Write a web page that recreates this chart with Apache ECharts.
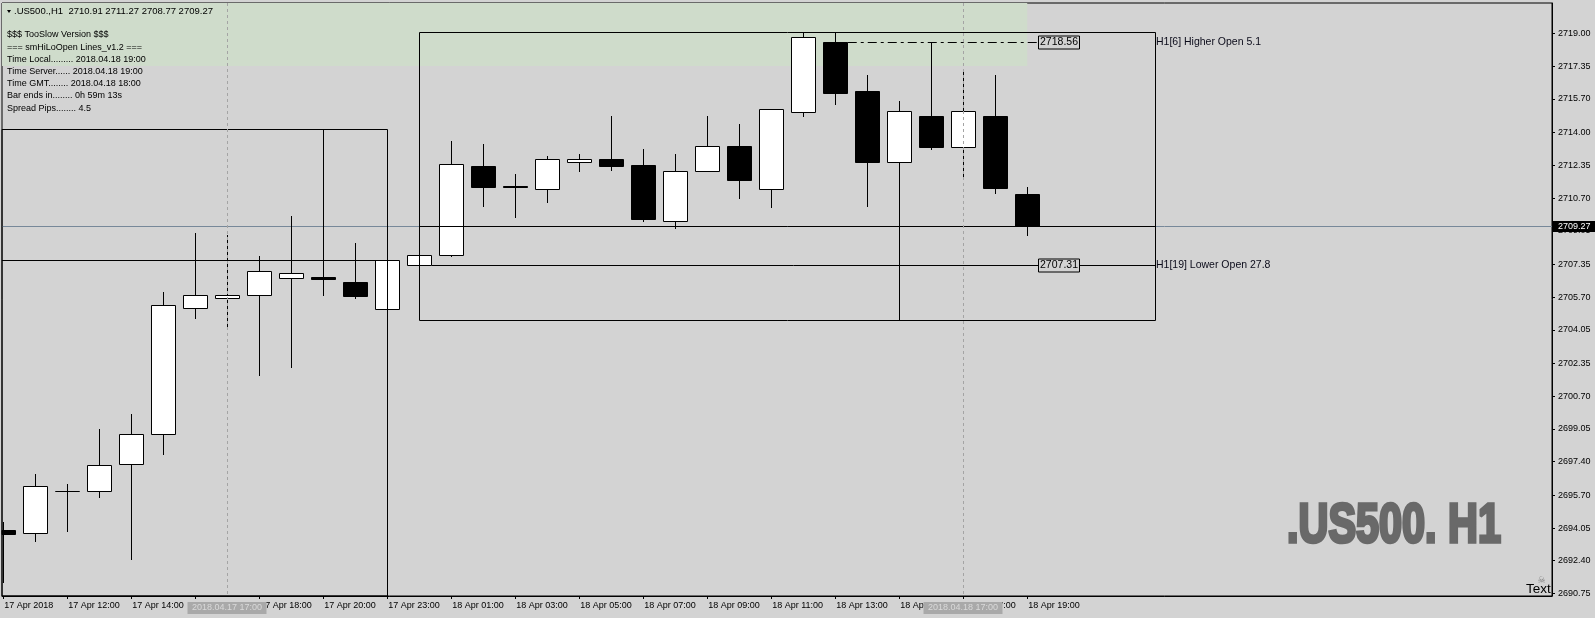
<!DOCTYPE html>
<html><head><meta charset="utf-8">
<script src="https://cdn.jsdelivr.net/npm/echarts@6/dist/echarts.min.js"></script>
<style>html,body{margin:0;padding:0;background:#d3d3d3;}#c{width:1595px;height:618px;}</style>
</head><body><div id="c"></div>
<script>
// ---------------- data ----------------
const barTimes = ['17 Apr 10:00','17 Apr 11:00','17 Apr 12:00','17 Apr 13:00','17 Apr 14:00','17 Apr 15:00','17 Apr 16:00','17 Apr 17:00','17 Apr 18:00','17 Apr 19:00','17 Apr 20:00','17 Apr 21:00','17 Apr 23:00',
  '18 Apr 00:00','18 Apr 01:00','18 Apr 02:00','18 Apr 03:00','18 Apr 04:00','18 Apr 05:00','18 Apr 06:00','18 Apr 07:00','18 Apr 08:00','18 Apr 09:00','18 Apr 10:00','18 Apr 11:00','18 Apr 12:00','18 Apr 13:00','18 Apr 14:00','18 Apr 15:00','18 Apr 16:00','18 Apr 17:00','18 Apr 18:00','18 Apr 19:00'];
const opens  = [2693.95,2693.78,2695.90,2695.90,2697.26,2698.78,2705.13,2705.64,2705.79,2706.65,2706.73,2706.44,2705.08,2707.31,2707.81,2712.31,2711.30,2711.14,2712.53,2712.67,2712.36,2709.52,2712.05,2713.31,2711.14,2715.02,2718.56,2716.10,2712.53,2714.84,2713.29,2714.84,2710.91];
const closes = [2693.76,2696.15,2695.90,2697.21,2698.78,2705.28,2705.79,2705.79,2707.00,2706.90,2706.63,2705.77,2707.55,2707.81,2712.40,2711.27,2711.24,2712.65,2712.65,2712.33,2709.65,2712.05,2713.32,2711.62,2715.17,2718.81,2716.01,2712.53,2715.09,2713.29,2715.09,2711.22,2709.27];
const highs  = [2694.37,2696.77,2696.27,2699.04,2699.80,2705.96,2708.92,2708.83,2707.77,2709.79,2714.16,2708.43,2707.65,2707.90,2713.57,2713.42,2711.91,2712.82,2712.92,2714.84,2713.17,2712.92,2714.84,2714.43,2715.17,2719.06,2719.06,2716.90,2715.59,2718.56,2717.16,2716.90,2711.27];
const lows   = [2691.29,2693.36,2693.86,2695.58,2692.43,2697.73,2704.59,2704.04,2701.73,2702.14,2705.77,2705.60,2704.95,2707.25,2707.74,2710.26,2709.70,2710.46,2712.01,2712.08,2709.49,2709.15,2712.00,2710.65,2710.21,2714.80,2715.39,2710.26,2704.54,2713.12,2711.69,2710.88,2708.77];

const xTickBars   = [0,2,4,6,8,10,12,14,16,18,20,22,24,26,28,30,32];
const xTickLabels = ['17 Apr 2018','17 Apr 12:00','17 Apr 14:00','17 Apr 16:00','17 Apr 18:00','17 Apr 20:00','17 Apr 23:00','18 Apr 01:00','18 Apr 03:00','18 Apr 05:00','18 Apr 07:00','18 Apr 09:00','18 Apr 11:00','18 Apr 13:00','18 Apr 15:00','18 Apr 17:00','18 Apr 19:00'];
const yTickLabels = ['2690.75','2692.40','2694.05','2695.70','2697.40','2699.05','2700.70','2702.35','2704.05','2705.70','2707.35','2709.05','2710.70','2712.35','2714.00','2715.70','2717.35','2719.00'];

const bidPrice = 2709.27;
const dayBoxFrom  = [-1, 13];
const dayBoxTo    = [12, 36];
const dayBoxHigh  = [2714.16, 2719.06];
const dayBoxLow   = [2680.00, 2704.54];
const dayBoxClose = [2707.55, 2709.27];
const openLevelNames  = ['H1[6] Higher Open 5.1', 'H1[19] Lower Open 27.8'];
const openLevelPrices = [2718.56, 2707.31];
const openLevelBars   = [26, 13];
const openLevelTagBar = 33;
const zoneFrom = -1, zoneTo = 32, zoneLow = 2717.36, zoneHigh = 2722.0;
const crosshairBars   = [7, 30];
const crosshairLabels = ['2018.04.17 17:00', '2018.04.18 17:00'];
const headerText = '.US500.,H1  2710.91 2711.27 2708.77 2709.27';
const infoLines = ['$$$ TooSlow Version $$$','=== smHiLoOpen Lines_v1.2 ===','Time Local......... 2018.04.18 19:00','Time Server...... 2018.04.18 19:00','Time GMT........ 2018.04.18 18:00','Bar ends in........ 0h 59m 13s','Spread Pips........ 4.5'];
const watermark = '.US500. H1';

// ---------------- chart ----------------
const FONT = '"Liberation Sans", Arial, sans-serif';
const XMIN = -0.04, XMAX = 48.40, YMIN = 2690.62, YMAX = 2720.54;
const chart = echarts.init(document.getElementById('c'), null, {renderer:'canvas', width:1595, height:618});

function clampX(x, cs){ return Math.max(cs.x, Math.min(cs.x + cs.width, x)); }
function txt(text, x, y, font, fill, align, valign){
  return {type:'text', style:{text, x, y, font, fill, align, verticalAlign:valign, textAlign:align, textVerticalAlign:valign}};
}

// watermark scaling
const wmFont = 'bold 55px "Liberation Sans Narrow", "Liberation Sans", Arial';
const ctx = document.createElement('canvas').getContext('2d');
ctx.font = wmFont;
const wmW = ctx.measureText(watermark).width || 300;
const wmScale = 214 / wmW;

const graphics = [
  {type:'polygon', z:100, shape:{points:[[7,10],[11,10],[9,13]]}, style:{fill:'#000'}},
  {type:'text', z:100, x:14, y:11.7, style:{text:headerText, font:'9.5px '+FONT, fill:'#000', verticalAlign:'middle', textVerticalAlign:'middle'}},
  {type:'text', z:100, x:1287, y:527, scaleX:wmScale, style:{text:watermark, font:wmFont, fill:'#696969', stroke:'#696969', lineWidth:3.5, lineJoin:'miter', verticalAlign:'middle', textVerticalAlign:'middle'}},
  {type:'text', z:100, x:1541.5, y:581, style:{text:'\u2620', font:'9px "DejaVu Sans"', fill:'#808080', align:'center', textAlign:'center', verticalAlign:'middle', textVerticalAlign:'middle'}},
  {type:'text', z:100, x:1526, y:589, style:{text:'Text', font:'13.5px '+FONT, fill:'#000', verticalAlign:'middle', textVerticalAlign:'middle'}}
];
infoLines.forEach((t, k) => graphics.push({type:'text', z:100, x:7, y:35 + k*12.17, style:{text:t, font:'9px '+FONT, fill:'#000', verticalAlign:'middle', textVerticalAlign:'middle'}}));

const candleData = opens.map((o, i) => [i, o, closes[i], lows[i], highs[i]]);

const option = {
  animation:false,
  backgroundColor:'#d3d3d3',
  grid:{left:2, right:43, top:3, bottom:22, show:true, borderColor:'#000', borderWidth:1, backgroundColor:'transparent'},
  xAxis:{type:'value', min:XMIN, max:XMAX, splitLine:{show:false},
    axisLine:{onZero:false, lineStyle:{color:'#000'}},
    axisTick:{show:true, length:3, lineStyle:{color:'#000'}, customValues:xTickBars},
    axisLabel:{customValues:xTickBars, align:'left', margin:5, padding:[0,0,0,1], color:'#000', fontSize:9, fontFamily:'Liberation Sans',
      formatter:v => { const k = xTickBars.indexOf(Math.round(v)); return k >= 0 ? xTickLabels[k] : ''; }}},
  yAxis:{type:'value', position:'right', min:YMIN, max:YMAX, splitLine:{show:false},
    axisLine:{show:true, onZero:false, lineStyle:{color:'#000'}},
    axisTick:{show:true, length:3, lineStyle:{color:'#000'}, customValues:yTickLabels.map(Number)},
    axisLabel:{customValues:yTickLabels.map(Number), margin:6, color:'#000', fontSize:9, fontFamily:'Liberation Sans',
      formatter:v => { const k = yTickLabels.map(Number).findIndex(t => Math.abs(t - v) < 1e-6); return k >= 0 ? yTickLabels[k] : v.toFixed(2); }}},
  graphic:graphics,
  series:[
    { // high zone
      type:'custom', data:[[0, 2700]], z:1,
      renderItem:(params, api) => {
        const p1 = api.coord([zoneFrom, zoneHigh]), p2 = api.coord([zoneTo, zoneLow]);
        const r = echarts.graphic.clipRectByRect({x:p1[0], y:p1[1], width:p2[0]-p1[0], height:p2[1]-p1[1]}, params.coordSys);
        return r ? {type:'rect', shape:r, style:{fill:'#cfdccb'}} : null;
      }},
    { // bid line
      type:'custom', data:[[0, bidPrice]], z:2,
      renderItem:(params, api) => {
        const cs = params.coordSys; const y = Math.round(api.coord([0, bidPrice])[1]) + 0.5;
        return {type:'line', shape:{x1:cs.x, y1:y, x2:cs.x+cs.width, y2:y}, style:{stroke:'#778899', lineWidth:1}};
      }},
    { // candles
      type:'custom', data:candleData, z:3, encode:{x:0, y:[1,2,3,4]},
      renderItem:(params, api) => {
        const i = api.value(0), o = api.value(1), c = api.value(2), l = api.value(3), h = api.value(4);
        const pO = api.coord([i, o]), pC = api.coord([i, c]), pH = api.coord([i, h]), pL = api.coord([i, l]);
        const cx = Math.round(pO[0]);
        const yT = Math.round(Math.min(pO[1], pC[1])), yB = Math.round(Math.max(pO[1], pC[1]));
        const bull = c >= o;
        const children = [];
        if (cx + 0.5 >= params.coordSys.x) children.push({type:'line', shape:{x1:cx+0.5, y1:Math.round(pH[1]), x2:cx+0.5, y2:Math.round(pL[1])}, style:{stroke:'#000', lineWidth:1}});
        const r = echarts.graphic.clipRectByRect({x:cx-11.5, y:yT+0.5, width:24, height:Math.max(yB-yT, 0.01)}, params.coordSys);
        if (r) children.push({type:'rect', shape:r, style:{fill:bull ? '#fff' : '#000', stroke:'#000', lineWidth:1}});
        return {type:'group', children};
      }},
    { // day boxes and their close lines
      type:'custom', data:dayBoxFrom.map((f, k) => [k, dayBoxHigh[k]]), z:4,
      renderItem:(params, api) => {
        const k = params.dataIndex, cs = params.coordSys;
        const p1 = api.coord([dayBoxFrom[k], dayBoxHigh[k]]), p2 = api.coord([dayBoxTo[k], dayBoxLow[k]]);
        const x1 = Math.round(p1[0]) + 0.5, x2 = Math.round(p2[0]) + 0.5, y1 = Math.round(p1[1]) + 0.5, y2 = Math.round(p2[1]) + 0.5;
        const r = echarts.graphic.clipRectByRect({x:x1, y:y1, width:x2-x1, height:y2-y1}, cs);
        const yc = Math.round(api.coord([0, dayBoxClose[k]])[1]) + 0.5;
        const children = [];
        if (r) children.push({type:'rect', shape:r, style:{fill:null, stroke:'#000', lineWidth:1}});
        children.push({type:'line', shape:{x1:clampX(x1, cs), y1:yc, x2:clampX(x2, cs), y2:yc}, style:{stroke:'#000', lineWidth:1}});
        return {type:'group', children};
      }},
    { // open levels: line, price tag, text
      type:'custom', data:openLevelPrices.map((p, k) => [k, p]), z:5,
      renderItem:(params, api) => {
        const k = params.dataIndex, p = openLevelPrices[k];
        const y = Math.round(api.coord([0, p])[1]) + 0.5;
        const xs = api.coord([openLevelBars[k], p])[0] + 12.5;
        const xt = Math.round(api.coord([openLevelTagBar, p])[0]);
        const xe = Math.round(api.coord([dayBoxTo[1], p])[0]);
        const dashed = k === 0;
        const children = [];
        children.push({type:'line', shape:{x1:xs, y1:y, x2:dashed ? xt - 20 : xe, y2:y}, style:{stroke:'#000', lineWidth:1, lineDash:dashed ? [9,4,3,4] : null}});
        children.push({type:'rect', shape:{x:xt-20.5, y:y-6.5, width:41, height:13}, style:{fill:'#d3d3d3', stroke:'#000', lineWidth:1}});
        children.push(txt(p.toFixed(2), xt, y, '10.5px '+FONT, '#000', 'center', 'middle'));
        children.push(txt(openLevelNames[k], xe + 1, y, '10.5px '+FONT, '#0b0b1a', 'left', 'middle'));
        return {type:'group', children};
      }},
    { // crosshair lines
      type:'custom', data:crosshairBars.map(b => [b, 2700]), z:6,
      renderItem:(params, api) => {
        const cs = params.coordSys; const x = Math.round(api.coord([api.value(0), 0])[0]) + 0.5;
        return {type:'line', shape:{x1:x, y1:cs.y, x2:x, y2:cs.y+cs.height}, style:{stroke:'#a4a4a4', lineWidth:1, lineDash:[3,3]}};
      }},
    { // crosshair axis labels + bid tag
      type:'custom', data:crosshairBars.map(b => [b, 2700]), z:7,
      renderItem:(params, api) => {
        const cs = params.coordSys; const k = params.dataIndex;
        const x = Math.round(api.coord([api.value(0), 0])[0]);
        const yb = cs.y + cs.height;
        const children = [
          {type:'rect', shape:{x:x-39.5, y:yb+6, width:79, height:12}, style:{fill:'#a9a9a9'}},
          txt(crosshairLabels[k], x, yb+12, '9px '+FONT, '#d9d9d9', 'center', 'middle')
        ];
        if (k === 0) {
          const y = Math.round(api.coord([0, bidPrice])[1]);
          children.push({type:'rect', shape:{x:cs.x+cs.width+1, y:y-5, width:43, height:11}, style:{fill:'#000'}});
          children.push(txt(bidPrice.toFixed(2), cs.x+cs.width+6, y+0.5, '9px '+FONT, '#fff', 'left', 'middle'));
        }
        return {type:'group', children};
      }}
  ]
};
chart.setOption(option);
</script>
</body></html>
